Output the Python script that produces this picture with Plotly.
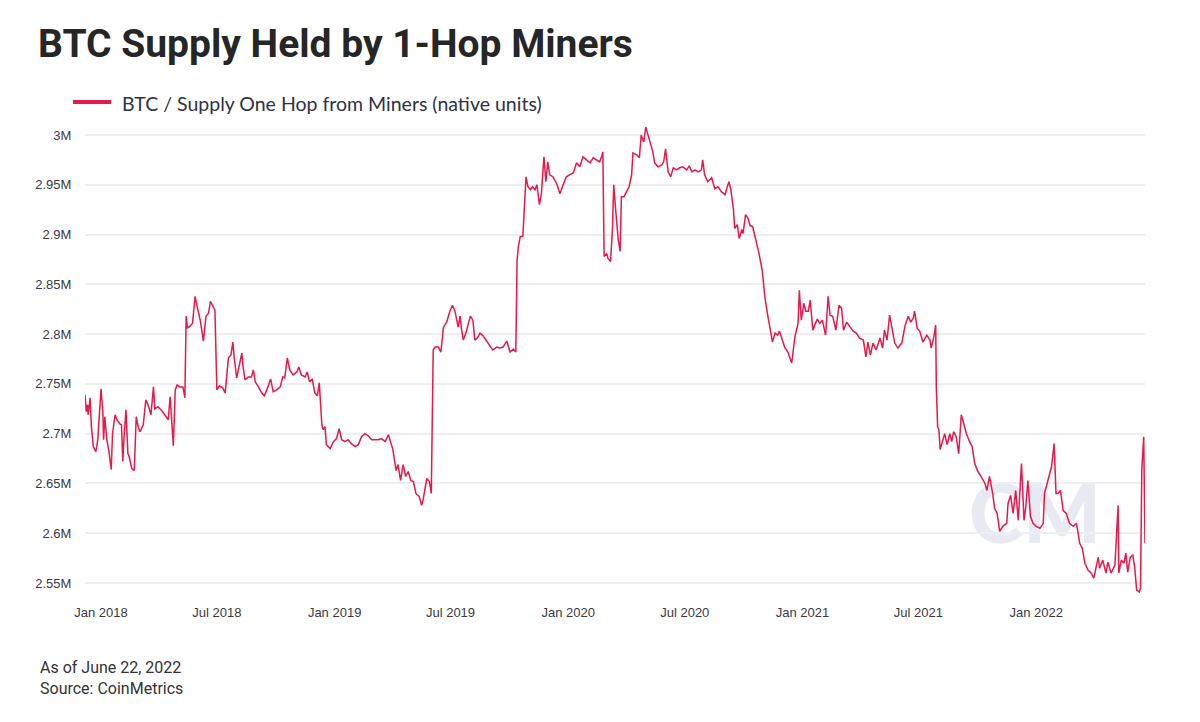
import pandas as pd
import plotly.graph_objects as go

# ---------------- data ----------------
series_name = "BTC / Supply One Hop from Miners (native units)"

# day offsets from 2018-01-01
days_since_2018 = [
    -25, -23, -21, -20, -17, -15, -12, -8, -5, -3, 0, 3, 4, 6, 9, 12, 16, 18, 22, 25,
    29, 32, 34, 36, 39, 42, 44, 48, 52, 55, 58, 61, 64, 66, 70, 74, 78, 82, 84, 89,
    95, 100, 105, 108, 110, 113, 116, 119, 123, 128, 131, 133, 135, 139, 143, 147, 150, 155, 160, 164,
    168, 171, 174, 178, 181, 185, 190, 194, 199, 203, 206, 208, 212, 216, 220, 222, 225, 230, 235, 238,
    241, 246, 251, 255, 259, 265, 269, 274, 280, 284, 287, 291, 295, 300, 306, 309, 313, 319, 322, 326,
    330, 334, 338, 341, 345, 347, 350, 352, 358, 363, 368, 372, 376, 381, 386, 391, 397, 402, 407, 412,
    417, 423, 428, 433, 438, 444, 449, 454, 456, 461, 464, 468, 472, 476, 480, 484, 488, 492, 497, 501,
    503, 509, 513, 516, 519, 522, 527, 531, 535, 540, 545, 549, 553, 558,
    561, 563, 566, 570, 574, 577, 581, 584, 588, 592, 596, 601, 606, 612, 618, 623, 628, 634, 639, 644,
    648, 650, 652, 655, 659, 661, 664, 667, 671, 674, 678, 681, 685, 688, 692, 695, 698, 701, 706, 712,
    717, 722, 727, 732, 738, 743, 748, 753, 759, 764, 769, 774, 779, 782, 784, 786, 790, 792, 796, 799,
    801, 804, 808, 811, 813, 817, 821, 825, 829, 831, 837, 841, 844, 848, 851, 855, 859, 862, 865, 870,
    876, 879, 882, 886, 890, 894, 899, 904, 909, 915, 919, 923, 928, 933, 938, 940, 943, 948, 954, 959,
    964, 969, 975, 977, 981, 984, 988, 990, 994, 997, 1001, 1003, 1007, 1011, 1014, 1018, 1023, 1028, 1033, 1037,
    1041, 1045, 1049, 1053, 1057, 1060, 1065, 1068, 1073, 1079, 1081, 1084, 1089,
    1091, 1094, 1098, 1101, 1105, 1108, 1112, 1115, 1119, 1123, 1127, 1132, 1136, 1139, 1143, 1148, 1153, 1157, 1160, 1165,
    1170, 1175, 1180, 1185, 1191, 1195, 1198, 1202, 1206, 1211, 1217, 1221, 1224, 1228, 1232, 1236, 1240, 1245, 1251, 1256,
    1261, 1265, 1269, 1271, 1275, 1279, 1284, 1290, 1295, 1297, 1301, 1304, 1305, 1307, 1309, 1311, 1315, 1318, 1322, 1326,
    1329, 1332, 1336, 1340, 1344, 1348, 1352, 1357, 1361, 1365, 1370, 1375, 1381, 1384, 1388, 1393, 1396, 1400, 1404, 1409,
    1415, 1417, 1421, 1425, 1429, 1433, 1438, 1442, 1445, 1448, 1452, 1456, 1461, 1467, 1472, 1474, 1478, 1481, 1485, 1489,
    1492, 1495, 1499, 1503, 1508, 1513, 1519, 1524, 1529, 1533, 1537, 1542, 1547, 1551, 1555, 1558, 1560, 1565, 1570, 1573,
    1578, 1584, 1589, 1590, 1594, 1598, 1601, 1604, 1608, 1612, 1615, 1618, 1622, 1624, 1626, 1629, 1631,
]

# supply held one hop from miners, millions of BTC
supply_millions = [
    2.739, 2.722, 2.729, 2.719, 2.736, 2.707, 2.687, 2.682, 2.694, 2.720, 2.745, 2.720, 2.694, 2.717, 2.694, 2.684, 2.664, 2.700, 2.719, 2.714,
    2.710, 2.709, 2.672, 2.697, 2.724, 2.680, 2.677, 2.665, 2.663, 2.717, 2.707, 2.702, 2.707, 2.709, 2.734, 2.728, 2.719, 2.747, 2.725, 2.727,
    2.723, 2.718, 2.714, 2.737, 2.714, 2.688, 2.744, 2.749, 2.747, 2.747, 2.736, 2.818, 2.806, 2.808, 2.811, 2.838, 2.828, 2.814, 2.793, 2.818,
    2.821, 2.833, 2.829, 2.824, 2.744, 2.748, 2.746, 2.741, 2.776, 2.779, 2.792, 2.777, 2.756, 2.767, 2.781, 2.767, 2.754, 2.757, 2.757, 2.764,
    2.752, 2.747, 2.741, 2.738, 2.744, 2.755, 2.742, 2.744, 2.747, 2.757, 2.756, 2.776, 2.764, 2.759, 2.762, 2.767, 2.759, 2.757, 2.762, 2.752,
    2.755, 2.741, 2.738, 2.751, 2.709, 2.704, 2.707, 2.689, 2.685, 2.692, 2.695, 2.705, 2.694, 2.692, 2.694, 2.690, 2.687, 2.689, 2.697, 2.700,
    2.698, 2.694, 2.694, 2.694, 2.695, 2.692, 2.699, 2.689, 2.684, 2.663, 2.669, 2.653, 2.669, 2.657, 2.662, 2.653, 2.652, 2.640, 2.637, 2.628,
    2.633, 2.655, 2.652, 2.640, 2.784, 2.787, 2.787, 2.782, 2.807, 2.812, 2.823, 2.829, 2.823, 2.807,
    2.818, 2.806, 2.794, 2.801, 2.811, 2.818, 2.814, 2.794, 2.796, 2.801, 2.799, 2.794, 2.789, 2.784, 2.787, 2.786, 2.787, 2.793, 2.782, 2.785,
    2.782, 2.874, 2.888, 2.898, 2.898, 2.925, 2.958, 2.948, 2.945, 2.948, 2.945, 2.950, 2.930, 2.941, 2.978, 2.953, 2.973, 2.960, 2.958, 2.951,
    2.941, 2.950, 2.958, 2.960, 2.962, 2.972, 2.968, 2.978, 2.975, 2.972, 2.977, 2.975, 2.973, 2.978, 2.983, 2.878, 2.881, 2.876, 2.873, 2.905,
    2.950, 2.925, 2.895, 2.883, 2.938, 2.938, 2.943, 2.948, 2.960, 2.982, 2.980, 2.977, 3.000, 2.993, 3.008, 3.000, 2.990, 2.983, 2.972, 2.968,
    2.970, 2.973, 2.986, 2.963, 2.958, 2.967, 2.965, 2.967, 2.968, 2.965, 2.969, 2.963, 2.965, 2.963, 2.965, 2.975, 2.960, 2.953, 2.957, 2.946,
    2.948, 2.943, 2.940, 2.945, 2.953, 2.945, 2.925, 2.906, 2.910, 2.896, 2.905, 2.901, 2.920, 2.916, 2.909, 2.908, 2.895, 2.881, 2.864, 2.838,
    2.821, 2.806, 2.792, 2.801, 2.799, 2.803, 2.794, 2.787, 2.782, 2.771, 2.781, 2.797, 2.811,
    2.844, 2.814, 2.831, 2.823, 2.823, 2.834, 2.804, 2.809, 2.815, 2.811, 2.814, 2.799, 2.838, 2.819, 2.818, 2.804, 2.829, 2.826, 2.804, 2.812,
    2.808, 2.803, 2.801, 2.796, 2.794, 2.777, 2.792, 2.779, 2.791, 2.784, 2.796, 2.786, 2.804, 2.794, 2.819, 2.803, 2.791, 2.786, 2.791, 2.808,
    2.818, 2.812, 2.816, 2.823, 2.806, 2.803, 2.792, 2.799, 2.794, 2.786, 2.797, 2.809, 2.747, 2.707, 2.704, 2.684, 2.694, 2.700, 2.689, 2.700,
    2.692, 2.702, 2.697, 2.680, 2.719, 2.710, 2.700, 2.692, 2.687, 2.670, 2.662, 2.657, 2.650, 2.643, 2.657, 2.640, 2.625, 2.620, 2.602, 2.607,
    2.610, 2.630, 2.638, 2.620, 2.643, 2.613, 2.670, 2.613, 2.628, 2.653, 2.617, 2.610, 2.607, 2.605, 2.610, 2.640, 2.650, 2.657, 2.667, 2.690,
    2.640, 2.640, 2.643, 2.623, 2.620, 2.610, 2.607, 2.610, 2.590, 2.585, 2.570, 2.563, 2.560, 2.555, 2.568, 2.576, 2.565, 2.573, 2.560, 2.571,
    2.560, 2.568, 2.628, 2.560, 2.573, 2.570, 2.580, 2.561, 2.576, 2.578, 2.565, 2.543, 2.541, 2.545, 2.664, 2.697, 2.590,
]

title_text = "BTC Supply Held by 1-Hop Miners"
footer_lines = ["As of June 22, 2022", "Source: CoinMetrics"]
x_range = ["2017-12-07", "2022-06-20"]
y_range_millions = [2.535, 3.012]

# ---------------- build ----------------
dates = pd.Timestamp("2018-01-01") + pd.to_timedelta(days_since_2018, unit="D")
supply = [v * 1e6 for v in supply_millions]

LINE_COLOR = "#e5194c"

fig = go.Figure()
fig.add_trace(go.Scatter(
    x=dates, y=supply, mode="lines", name=series_name,
    line=dict(color=LINE_COLOR, width=1.5), showlegend=False,
    hovertemplate="%{x|%b %d, %Y}<br>%{y:,.0f}<extra></extra>",
))

W, H = 1200, 722
ML, MR, MT, MB = 85, 55, 123, 124
PW, PH = W - ML - MR, H - MT - MB

def px_x(x):
    return (x - ML) / PW

def px_y(y):
    return (H - MB - y) / PH

# watermark (behind the line)
fig.add_shape(
    type="rect", xref="paper", yref="paper",
    x0=px_x(975), x1=px_x(1095), y0=px_y(547), y1=px_y(473),
    line=dict(width=0), fillcolor="rgba(0,0,0,0)", layer="below",
    label=dict(text="CM", font=dict(family="Lato", size=82, color="#e7eaf2", weight=900),
               textposition="middle center"),
)

# legend (manual)
fig.add_shape(
    type="line", xref="paper", yref="paper",
    x0=px_x(73), x1=px_x(111), y0=px_y(102), y1=px_y(102),
    line=dict(color=LINE_COLOR, width=4),
)
fig.add_annotation(
    xref="paper", yref="paper", x=px_x(120), y=px_y(103),
    xanchor="left", yanchor="middle", showarrow=False,
    text=series_name, font=dict(family="Lato", size=19.5, color="#2f3243"),
)

# footer
for i, line in enumerate(footer_lines):
    fig.add_annotation(
        xref="paper", yref="paper", x=px_x(38), y=px_y(667 + 21 * i),
        xanchor="left", yanchor="middle", showarrow=False,
        text=line, font=dict(family="Roboto", size=16, color="#333333"),
    )

fig.update_layout(
    width=W, height=H,
    margin=dict(l=ML, r=MR, t=MT, b=MB),
    paper_bgcolor="white", plot_bgcolor="white",
    title=dict(
        text=title_text, xref="container", yref="container",
        x=38 / W, xanchor="left", y=1 - 43 / H, yanchor="middle",
        font=dict(family="Roboto", size=39, color="#262626", weight=700),
    ),
    xaxis=dict(
        type="date", range=x_range, tick0="2018-01-01", dtick="M6",
        tickformat="%b %Y", showgrid=False, zeroline=False, showline=False,
        ticks="outside", ticklen=2, tickcolor="rgba(0,0,0,0)",
        tickfont=dict(family="Liberation Sans, Arial", size=13, color="#3a3a44"),
    ),
    yaxis=dict(
        range=[y_range_millions[0] * 1e6, y_range_millions[1] * 1e6],
        tick0=0, dtick=50000, tickformat="~s",
        showgrid=True, gridcolor="#efefef", gridwidth=1.5,
        zeroline=False, showline=False,
        ticks="outside", ticklen=10, tickcolor="rgba(0,0,0,0)",
        tickfont=dict(family="Liberation Sans, Arial", size=13, color="#3a3a44"),
    ),
)

fig.write_html(
    "out.html",
    config={"displayModeBar": False},
    post_script="document.body.style.margin='0px';",
)
